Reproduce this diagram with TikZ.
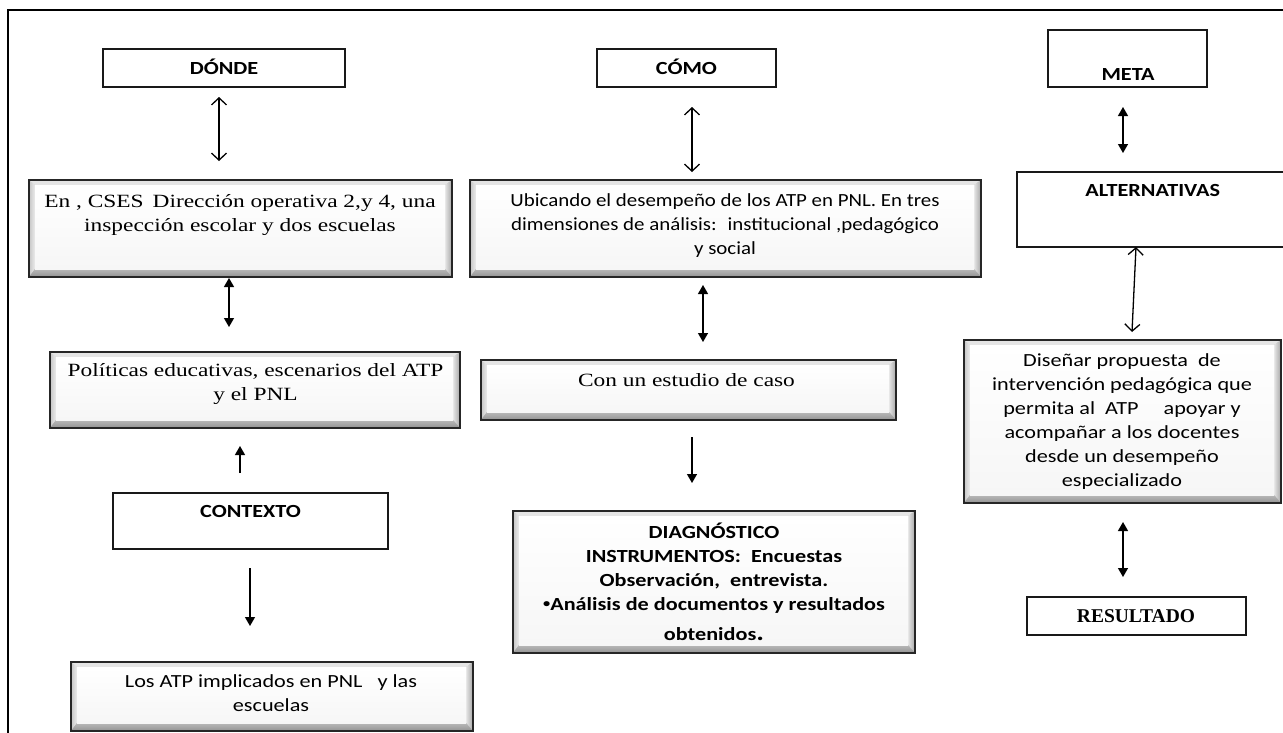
\documentclass[tikz,border=0pt]{standalone}
\usepackage{fontspec}
\setmainfont{Liberation Serif}
\newfontfamily\sansx[FakeStretch=1.2]{Carlito}
\newfontfamily\sansn[FakeStretch=1.13]{Carlito}
\newfontfamily\serifx[FakeStretch=1.25]{Liberation Serif}
\newfontfamily\serifb{Liberation Serif}
\usetikzlibrary{arrows.meta,calc}
\tikzset{
  plainbox/.style={draw=black!90, line width=1.4pt, fill=white, inner sep=0pt},
  bevelbox/.style={draw=black!85, line width=1.5pt, fill=gray!60, inner sep=0pt,
    path picture={
      \coordinate (bsw) at (path picture bounding box.south west);
      \coordinate (bne) at (path picture bounding box.north east);
      \coordinate (bnw) at (bsw |- bne);
      \coordinate (bse) at (bne |- bsw);
      \coordinate (isw) at ($(bsw)+(6pt,8pt)$);
      \coordinate (ine) at ($(bne)+(-7pt,-5pt)$);
      \coordinate (inw) at (isw |- ine);
      \coordinate (ise) at (ine |- isw);
      \shade[left color=gray!45, right color=gray!15] (bsw) -- (bnw) -- (inw) -- (isw) -- cycle;
      \fill[gray!20] (bnw) -- (bne) -- (ine) -- (inw) -- cycle;
      \shade[left color=gray!20, right color=gray!70] (bne) -- (bse) -- (ise) -- (ine) -- cycle;
      \shade[top color=gray!55, bottom color=gray!85] (bsw) -- (bse) -- (ise) -- (isw) -- cycle;
      \shade[top color=white, bottom color=gray!7] (isw) rectangle (ine);
    }},
  tsans/.style={font=\sansx\fontsize{18.5}{24}\selectfont, align=center, inner sep=0pt, anchor=north},
  tsansn/.style={font=\sansn\fontsize{18.5}{24}\selectfont, align=center, inner sep=0pt, anchor=north},
  tsansb/.style={font=\sansx\bfseries\fontsize{18.5}{24}\selectfont, align=center, inner sep=0pt, anchor=north},
  tserif/.style={font=\serifx\fontsize{18.7}{24}\selectfont, align=center, inner sep=0pt, anchor=north},
  tserifb/.style={font=\serifb\bfseries\fontsize{19.5}{24}\selectfont, align=center, inner sep=0pt, anchor=north},
  openarr/.style={{Straight Barb[length=7pt,width=15pt]}-{Straight Barb[length=7pt,width=15pt]}, line width=1.3pt},
  fullarr/.style={{Triangle[length=9pt,width=10pt]}-{Triangle[length=9pt,width=10pt]}, line width=1.3pt},
  onearr/.style={-{Triangle[length=9pt,width=10pt]}, line width=1.3pt}
}
% box from corners: name, style, x1, y1, x2, y2
\newcommand\bx[6]{\node[#2, minimum width={#5-#3}, minimum height={#6-#4}] (#1) at ({(#3+#5)/2},{(#4+#6)/2}) {};}
% text: name, style, cx, first baseline, content
\newcommand\tx[5]{\node[#2] (#1) at (#3,{#4-17}) {\rule{0pt}{17pt}#5};}
\begin{document}
\begin{tikzpicture}[x=1pt,y=-1pt]
\useasboundingbox (0,0) rectangle (1283,732);
\fill[white] (0,0) rectangle (1283,732);
% outer frame
\draw[line width=2.8pt] (8,740) -- (8,10) -- (1290,10);

% left column
\bx{donde}{plainbox}{103}{49}{345}{87}
\tx{dondet}{tsansb}{224}{74}{DÓNDE}
\bx{en}{bevelbox}{29}{180}{452}{277}
\tx{ent}{tserif}{240}{207.5}{En , CSES \,Dirección operativa 2,y 4, una\\inspección escolar y dos escuelas}
\bx{pol}{bevelbox}{50}{352}{460}{428}
\tx{polt}{tserif}{255.5}{376}{Políticas educativas, escenarios del ATP\\y el PNL}
\bx{ctx}{plainbox}{113}{493}{388}{549}
\tx{ctxt}{tsansb}{250.5}{517.7}{CONTEXTO}
\bx{los}{bevelbox}{71}{662}{473}{731}
\tx{lost}{tsans}{271}{687.7}{Los ATP implicados en PNL \ \ y las\\escuelas}

% middle column
\bx{como}{plainbox}{597}{49}{776}{87}
\tx{comot}{tsansb}{686.5}{74}{CÓMO}
\bx{ubi}{bevelbox}{470}{180}{981}{277}
\tx{ubit}{tsansn}{725}{206.7}{Ubicando el desempeño de los ATP en PNL. En tres\\dimensiones de análisis: \ institucional ,pedagógico\\y social}
\bx{con}{bevelbox}{481}{360}{896}{420}
\tx{cont}{tserif}{686.5}{386.7}{Con un estudio de caso}
\bx{diag}{bevelbox}{513}{511}{915}{653}
\tx{diagt}{tsansb}{714}{538}{DIAGNÓSTICO\\INSTRUMENTOS: \ Encuestas\\Observación, \ entrevista.\\\raisebox{0.3ex}{\fontsize{12}{12}\selectfont•}Análisis de documentos y resultados\\[6pt]obtenidos{\fontsize{24}{24}\selectfont.}}

% right column
\bx{meta}{plainbox}{1048}{30}{1207}{87}
\tx{metat}{tsansb}{1128}{80}{META}
\bx{alt}{plainbox}{1017}{172}{1300}{247}
\tx{altt}{tsansb}{1152.7}{196.7}{ALTERNATIVAS}
\bx{dis}{bevelbox}{964}{340}{1281}{503}
\tx{dist}{tsans}{1122}{366.7}{Diseñar propuesta \ de\\intervención pedagógica que\\permita al \ ATP \ \ \ \ apoyar y\\acompañar a los docentes\\desde un desempeño\\especializado}
\bx{res}{plainbox}{1027}{597}{1246}{635}
\tx{rest}{tserifb}{1136}{622.7}{RESULTADO}

% arrow end points
\coordinate (a1s) at (219,97);   \coordinate (a1e) at (219,161);
\coordinate (a2s) at (229,278);  \coordinate (a2e) at (229,327);
\coordinate (a3s) at (240,473);  \coordinate (a3e) at (240,446);
\coordinate (a4s) at (250,568);  \coordinate (a4e) at (250,626);
\coordinate (b1s) at (692,107);  \coordinate (b1e) at (692,172);
\coordinate (b2s) at (703,285);  \coordinate (b2e) at (703,342);
\coordinate (b3s) at (692,437);  \coordinate (b3e) at (692,483);
\coordinate (c1s) at (1123,107); \coordinate (c1e) at (1123,153);
\coordinate (c2s) at (1136,247); \coordinate (c2e) at (1132,332);
\coordinate (c3s) at (1123,522); \coordinate (c3e) at (1123,577);

\draw[openarr] (a1s) -- (a1e);
\draw[fullarr] (a2s) -- (a2e);
\draw[onearr] (a3s) -- (a3e);
\draw[onearr] (a4s) -- (a4e);
\draw[openarr] (b1s) -- (b1e);
\draw[fullarr] (b2s) -- (b2e);
\draw[onearr] (b3s) -- (b3e);
\draw[fullarr] (c1s) -- (c1e);
\draw[openarr] (c2s) -- (c2e);
\draw[fullarr] (c3s) -- (c3e);
\end{tikzpicture}
\end{document}
